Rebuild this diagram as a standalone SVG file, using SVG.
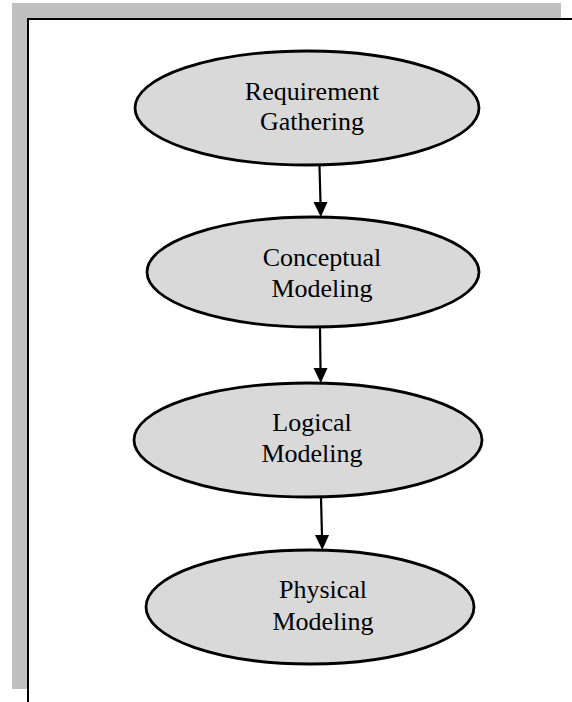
<svg xmlns="http://www.w3.org/2000/svg" width="572" height="702" viewBox="0 0 572 702">
<style>
.node ellipse{fill:#d9d9d9;stroke:#000;stroke-width:2.8}
.node text{font-family:"Liberation Serif","Times New Roman",serif;font-size:26px;fill:#000;text-anchor:middle}
.conn line{stroke:#000;stroke-width:2.2}
.conn path{fill:#000}
</style>
<rect x="0" y="0" width="572" height="702" fill="#fff"/>
<g id="frame">
<rect x="12" y="3" width="549" height="686" fill="#c0c0c0"/>
<rect x="28" y="19" width="544" height="683" fill="#fff"/>
<path d="M572,19 H28 V702" fill="none" stroke="#000" stroke-width="2"/>
</g>
<g id="connectors" class="conn">
<line x1="319.5" y1="166" x2="320.5" y2="203"/>
<path d="M313.5,202 L327.5,202 L320.8,217 Z"/>
<line x1="320" y1="328" x2="320.5" y2="369"/>
<path d="M313.5,368 L327.5,368 L320.8,383 Z"/>
<line x1="321" y1="498" x2="322" y2="536"/>
<path d="M315,535 L329,535 L322.3,550 Z"/>
</g>
<g id="requirement-gathering" class="node">
<ellipse cx="307" cy="108" rx="172" ry="57"/>
<text x="312" y="100">Requirement</text>
<text x="312" y="130">Gathering</text>
</g>
<g id="conceptual-modeling" class="node">
<ellipse cx="313" cy="272" rx="166" ry="55"/>
<text x="322" y="266">Conceptual</text>
<text x="322" y="297">Modeling</text>
</g>
<g id="logical-modeling" class="node">
<ellipse cx="308" cy="440" rx="174" ry="57"/>
<text x="312" y="431">Logical</text>
<text x="312" y="462">Modeling</text>
</g>
<g id="physical-modeling" class="node">
<ellipse cx="310" cy="607" rx="164" ry="57"/>
<text x="323" y="598">Physical</text>
<text x="323" y="630">Modeling</text>
</g>
</svg>
